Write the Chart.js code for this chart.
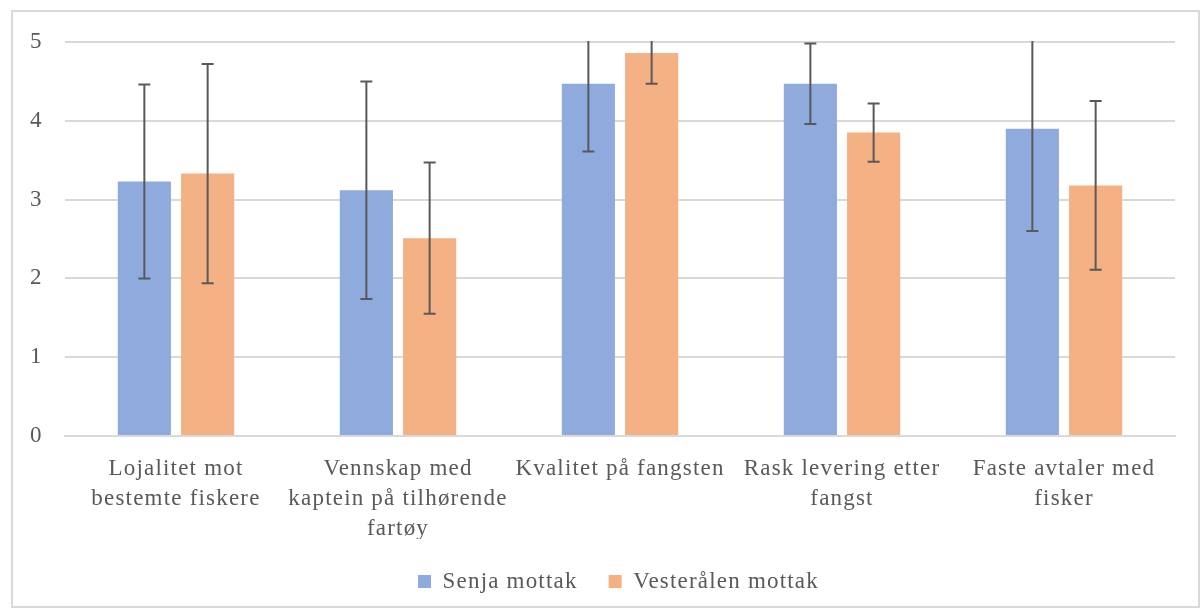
<!DOCTYPE html>
<html lang="no">
<head>
    <meta charset="UTF-8">
    <title>Mottak - vurdering</title>
    <script src="https://cdn.jsdelivr.net/npm/chart.js"></script>
    <style>
        body {
            margin: 0;
            background: #fff;
        }
        .frame {
            position: absolute;
            left: 11px;
            top: 10px;
            width: 1189px;
            height: 598px;
            border: 2px solid #d9d9d9;
            box-sizing: border-box;
        }
    </style>
</head>
<body>
    <div class="frame">
        <canvas id="chart"></canvas>
    </div>

    <script>
        // data
        const categories = [
            ['Lojalitet mot', 'bestemte fiskere'],
            ['Vennskap med', 'kaptein på tilhørende', 'fartøy'],
            'Kvalitet på fangsten',
            ['Rask levering etter', 'fangst'],
            ['Faste avtaler med', 'fisker']
        ];
        const senja = [3.23, 3.12, 4.47, 4.47, 3.90];
        const senjaErr = [1.23, 1.38, 0.86, 0.51, 1.30];
        const vesteralen = [3.33, 2.51, 4.86, 3.85, 3.18];
        const vesteralenErr = [1.39, 0.96, 0.39, 0.37, 1.07];
        const yTicks = [0, 1, 2, 3, 4, 5];

        const textColor = '#595959';
        const gridColor = '#d9d9d9';
        Chart.defaults.font.family = "'Liberation Serif', 'Times New Roman', serif";
        Chart.defaults.color = textColor;

        // the original text is set a bit loose
        const spacing = {
            id: 'spacing',
            beforeLayout(chart) { chart.ctx.letterSpacing = '1.2px'; },
            beforeDraw(chart) { chart.ctx.letterSpacing = '1.2px'; }
        };

        // legend in the original sits a little right of centre
        const legendShift = {
            id: 'legendShift',
            afterLayout(chart) {
                chart.legend.left += 16;
                chart.legend.right += 16;
            }
        };

        // draws the error bars from the errors attached to each dataset
        const errorBars = {
            id: 'errorBars',
            afterDatasetsDraw(chart) {
                const ctx = chart.ctx;
                const y = chart.scales.y;
                const area = chart.chartArea;
                ctx.save();
                ctx.beginPath();
                ctx.rect(area.left, area.top - 1, area.right - area.left, area.bottom - area.top + 2);
                ctx.clip();
                ctx.strokeStyle = '#595959';
                ctx.lineWidth = 2;
                chart.data.datasets.forEach((ds, i) => {
                    const meta = chart.getDatasetMeta(i);
                    meta.data.forEach((bar, j) => {
                        const v = ds.data[j];
                        const e = ds.errors[j];
                        const top = y.getPixelForValue(v + e);
                        const bot = y.getPixelForValue(v - e);
                        ctx.beginPath();
                        ctx.moveTo(bar.x, top);
                        ctx.lineTo(bar.x, bot);
                        ctx.moveTo(bar.x - 6, top);
                        ctx.lineTo(bar.x + 6, top);
                        ctx.moveTo(bar.x - 6, bot);
                        ctx.lineTo(bar.x + 6, bot);
                        ctx.stroke();
                    });
                });
                ctx.restore();
            }
        };

        new Chart(document.getElementById('chart'), {
            type: 'bar',
            data: {
                labels: categories,
                datasets: [
                    {
                        label: 'Senja mottak',
                        data: senja,
                        errors: senjaErr,
                        backgroundColor: '#8faadc'
                    },
                    {
                        label: 'Vesterålen mottak',
                        data: vesteralen,
                        errors: vesteralenErr,
                        backgroundColor: '#f4b183'
                    }
                ]
            },
            options: {
                responsive: true,
                maintainAspectRatio: false,
                animation: false,
                barPercentage: 0.84,
                categoryPercentage: 0.57,
                layout: {
                    padding: { top: 30, right: 23, left: 17, bottom: 3 }
                },
                scales: {
                    x: {
                        grid: { display: false, drawTicks: false },
                        border: { color: gridColor, width: 2 },
                        ticks: {
                            autoSkip: false,
                            maxRotation: 0,
                            padding: 18,
                            font: { size: 23, lineHeight: 1.3 }
                        },
                        afterFit(scale) { scale.height = 103; }
                    },
                    y: {
                        min: 0,
                        max: 5,
                        afterBuildTicks(scale) {
                            scale.ticks = yTicks.map(v => ({ value: v }));
                        },
                        grid: { color: gridColor, lineWidth: 2, drawTicks: false },
                        border: { display: false },
                        ticks: {
                            padding: 0,
                            crossAlign: 'far',
                            font: { size: 23 }
                        },
                        afterFit(scale) { scale.width = 35; }
                    }
                },
                plugins: {
                    legend: {
                        position: 'bottom',
                        labels: {
                            boxWidth: 13,
                            boxHeight: 13,
                            padding: 31,
                            font: { size: 23 }
                        }
                    },
                    tooltip: { enabled: false }
                }
            },
            plugins: [spacing, legendShift, errorBars]
        });
    </script>
</body>
</html>
